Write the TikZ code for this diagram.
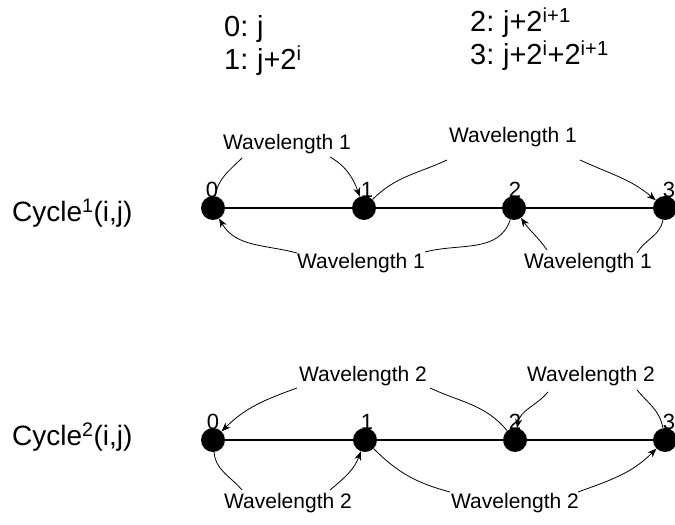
\documentclass[tikz,border=0pt]{standalone}
\usepackage{fontspec}
\setmainfont{Liberation Sans}
\usetikzlibrary{arrows.meta,calc}
\begin{document}
\begin{tikzpicture}[x=1pt,y=1pt,
  dot/.style={circle,fill=black,inner sep=0pt,minimum size=24pt},
  wl/.style={inner sep=0pt,font=\fontsize{21}{24}\selectfont},
  dig/.style={inner sep=0pt,font=\fontsize{22}{24}\selectfont},
  big/.style={inner sep=0pt,anchor=base west,font=\fontsize{29}{32}\selectfont},
  cyc/.style={inner sep=0pt,anchor=base west,font=\fontsize{28}{32}\selectfont},
  arc/.style={line width=0.8pt},
  arr/.style={arc,-{Stealth[length=9pt,width=7pt]}},
  axis/.style={line width=1.3pt}]
\useasboundingbox (0,0) rectangle (675,525);

% top legend
\node[big] (t0) at (224,488) {0:\hspace{-2pt} j};
\node[big] (t1) at (224,455) {1:\hspace{-2pt} j+2\textsuperscript{i}};
\node[big] (t2) at (470,493) {2:\hspace{-2pt} j+2\textsuperscript{i+1}};
\node[big] (t3) at (470,460) {3:\hspace{-2pt} j+2\textsuperscript{i}+2\textsuperscript{i+1}};

% cycle labels
\node[cyc] (c1) at (12,303) {Cycle\textsuperscript{1}(i,j)};
\node[cyc] (c2) at (12,79) {Cycle\textsuperscript{2}(i,j)};

% cycle 1 nodes
\node[dot] (a0) at (213,317) {};
\node[dot] (a1) at (364,317) {};
\node[dot] (a2) at (514,317) {};
\node[dot] (a3) at (665,317) {};
\node[dig] (da0) at (212,335) {0};
\node[dig] (da1) at (367,335) {1};
\node[dig] (da2) at (515,335) {2};
\node[dig] (da3) at (669,335) {3};
\draw[axis] (a0) -- (a1);
\draw[axis] (a1) -- (a2);
\draw[axis] (a2) -- (a3);

% cycle 2 nodes
\node[dot] (b0) at (213,85) {};
\node[dot] (b1) at (365,85) {};
\node[dot] (b2) at (515,85) {};
\node[dot] (b3) at (665,85) {};
\node[dig] (db0) at (213,103) {0};
\node[dig] (db1) at (367,103) {1};
\node[dig] (db2) at (515,103) {2};
\node[dig] (db3) at (669,103) {3};
\draw[axis] (b0) -- (b1);
\draw[axis] (b1) -- (b2);
\draw[axis] (b2) -- (b3);

% wavelength labels
\node[wl] (w1a) at (287,381) {Wavelength 1};
\node[wl] (w1b) at (513,388) {Wavelength 1};
\node[wl] (w1c) at (361,262) {Wavelength 1};
\node[wl] (w1d) at (588,262) {Wavelength 1};
\node[wl] (w2a) at (363,149) {Wavelength 2};
\node[wl] (w2b) at (591,149) {Wavelength 2};
\node[wl] (w2c) at (288,22) {Wavelength 2};
\node[wl] (w2d) at (515,22) {Wavelength 2};

% cycle 1 arcs
\draw[arc] (a0) to[out=80,in=225] ($(w1a.south west)+(19,-4)$);
\draw[arr] ($(w1a.south east)+(-21,-3)$) to[out=-30,in=110] (a1);
\draw[arc] (a1) to[out=45,in=205] ($(w1b.south west)+(-2,-13)$);
\draw[arr] ($(w1b.south east)+(3,-13)$) to[out=-25,in=140] (a3);
\draw[arc] (a2) to[out=-108,in=15] ($(w1c.north east)+(0,1)$);
\draw[arr] (w1c.north west) to[out=165,in=-60] (a0);
\draw[arc] (a3) to[out=-100,in=60] ($(w1d.north east)+(-15,0)$);
\draw[arr] ($(w1d.north west)+(23,3)$) to[out=125,in=-55] (a2);

% cycle 2 arcs
\draw[arc] (b2) to[out=130,in=-25] ($(w2a.south east)+(3,-2)$);
\draw[arr] ($(w2a.south west)+(-2,-2)$) to[out=200,in=45] (b0);
\draw[arc] (b3) to[out=100,in=-50] ($(w2b.south east)+(-18,-4)$);
\draw[arr] ($(w2b.south west)+(21,-6)$) to[out=-130,in=80] (b2);
\draw[arc] (b0) to[out=-85,in=130] ($(w2c.north west)+(18,3)$);
\draw[arr] ($(w2c.north east)+(-22,3)$) to[out=40,in=-110] (b1);
\draw[arc] (b1) to[out=-45,in=165] ($(w2d.north west)+(-1,1)$);
\draw[arr] ($(w2d.north east)+(-1,1)$) to[out=20,in=-135] (b3);
\end{tikzpicture}
\end{document}
